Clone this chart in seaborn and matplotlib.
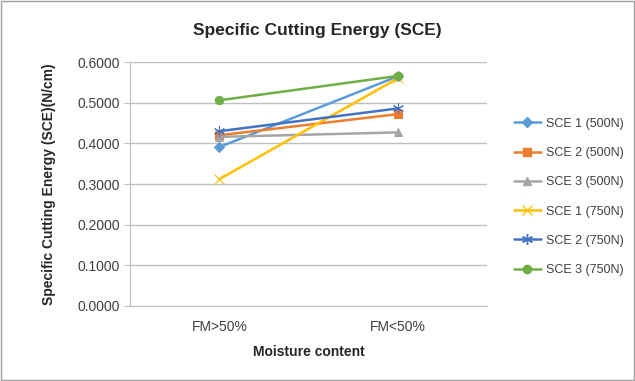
import pandas as pd
import numpy as np
import matplotlib
matplotlib.use("Agg")
import matplotlib.pyplot as plt
import seaborn as sns

# datos
moisture = ["FM>50%", "FM<50%"]
sce1_500 = [0.391, 0.565]
sce2_500 = [0.420, 0.472]
sce3_500 = [0.416, 0.427]
sce1_750 = [0.312, 0.560]
sce2_750 = [0.430, 0.486]
sce3_750 = [0.506, 0.566]

series = ["SCE 1 (500N)", "SCE 2 (500N)", "SCE 3 (500N)",
          "SCE 1 (750N)", "SCE 2 (750N)", "SCE 3 (750N)"]
values = [sce1_500, sce2_500, sce3_500, sce1_750, sce2_750, sce3_750]

colores = ["#5B9BD5", "#ED7D31", "#A5A5A5", "#FFC000", "#4472C4", "#70AD47"]
marcadores = ["D", "s", "^", "x", (6, 2, 0), "o"]
tamanos = [5, 6, 6, 7, 8, 6]

sns.set_style("white")
plt.rcParams["font.family"] = ["Liberation Sans", "DejaVu Sans"]

fig = plt.figure(figsize=(6.35, 3.81), dpi=100)
ax = fig.add_axes([0.205, 0.197, 0.562, 0.640])

# una llamada por serie (marcadores rellenos y de linea no se pueden mezclar)
for name, vals, c, m, ms in zip(series, values, colores, marcadores, tamanos):
    d = pd.DataFrame({"pos": [0, 1], "SCE": vals})
    sns.lineplot(data=d, x="pos", y="SCE", color=c, marker=m, markersize=ms,
                 markeredgecolor=c, markerfacecolor=c, linewidth=1.8, ax=ax)

ax.set_xlim(-0.5, 1.5)
ax.set_ylim(0, 0.6)
ax.set_yticks(np.arange(0, 0.61, 0.1))
ax.set_yticklabels([f"{v:.4f}" for v in np.arange(0, 0.61, 0.1)], fontsize=10, color="#404040")
ax.set_xticks([0, 1])
ax.set_xticklabels(moisture, fontsize=10, color="#404040")
ax.tick_params(axis="x", length=0, pad=10)
ax.set_xticks([0.5], minor=True)
ax.tick_params(axis="x", which="minor", length=4, color="#BFBFBF", direction="out")
ax.tick_params(axis="y", length=4, color="#BFBFBF", direction="out", left=True)
ax.yaxis.grid(True, color="#BFBFBF", linewidth=1)
ax.set_axisbelow(True)
for s in ["top", "right"]:
    ax.spines[s].set_visible(False)
ax.spines["left"].set_color("#BFBFBF")
ax.spines["bottom"].set_color("#BFBFBF")

ax.set_xlabel("Moisture content", fontsize=10, fontweight="bold", labelpad=8)
ax.set_ylabel("Specific Cutting Energy (SCE)(N/cm)", fontsize=10, fontweight="bold", labelpad=15)
fig.text(0.5, 0.92, "Specific Cutting Energy (SCE)", ha="center", va="center",
         fontsize=12.5, fontweight="bold")

handles = [plt.Line2D([], [], color=c, marker=m, markersize=ms, linewidth=1.8,
                      markeredgecolor=c, markerfacecolor=c)
           for c, m, ms in zip(colores, marcadores, tamanos)]
fig.legend(handles, series, loc="center left", bbox_to_anchor=(0.795, 0.483),
           frameon=False, fontsize=9, labelspacing=1.38, handlelength=2.2,
           handletextpad=0.4, borderpad=0.2, labelcolor="#404040")

fig.patches.append(plt.Rectangle((0.002, 0.003), 0.996, 0.994, transform=fig.transFigure,
                                 fill=False, edgecolor="#A0A0A0", linewidth=1))

fig.savefig("out.png", dpi=100)
